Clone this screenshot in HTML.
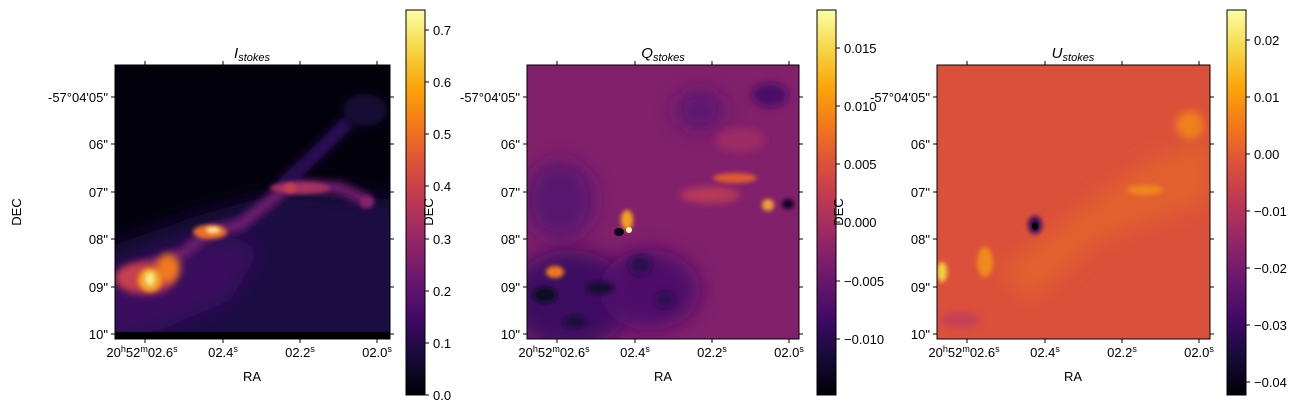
<!DOCTYPE html>
<html><head><meta charset="utf-8"><style>
body{margin:0;background:#fff;}
svg text{font-family:"Liberation Sans","DejaVu Sans",sans-serif;font-size:13px;fill:#000;}
</style></head><body>
<svg width="1307" height="413" xmlns="http://www.w3.org/2000/svg">
<defs>
<linearGradient id="inf" x1="0" y1="1" x2="0" y2="0">
<stop offset="0" stop-color="#000004"/><stop offset="0.1" stop-color="#160b39"/><stop offset="0.2" stop-color="#420a68"/><stop offset="0.3" stop-color="#6a176e"/><stop offset="0.4" stop-color="#932667"/><stop offset="0.5" stop-color="#bc3754"/><stop offset="0.6" stop-color="#dd513a"/><stop offset="0.7" stop-color="#f37819"/><stop offset="0.8" stop-color="#fca50a"/><stop offset="0.9" stop-color="#f6d746"/><stop offset="1" stop-color="#fcffa4"/>
</linearGradient>
<filter id="b8" x="-100%" y="-100%" width="300%" height="300%"><feGaussianBlur stdDeviation="10"/></filter>
<filter id="b4" x="-100%" y="-100%" width="300%" height="300%"><feGaussianBlur stdDeviation="4"/></filter>
<filter id="b2" x="-100%" y="-100%" width="300%" height="300%"><feGaussianBlur stdDeviation="2"/></filter>
<clipPath id="c1"><rect x="115" y="65" width="275" height="274"/></clipPath>
<clipPath id="c2"><rect x="527" y="65" width="272" height="274"/></clipPath>
<clipPath id="c3"><rect x="937" y="65" width="273" height="274"/></clipPath>
</defs>

<!-- Panel 1 -->
<g clip-path="url(#c1)">
<rect x="115" y="65" width="275" height="274" fill="#03020c"/>
<path d="M100,250 L200,215 L290,190 L400,200 L400,350 L100,350 Z" fill="#1e0a45" filter="url(#b8)"/>
<path d="M100,280 L170,255 L230,235 L260,250 L230,300 L160,330 L100,340Z" fill="#3a0c5e" filter="url(#b8)"/>
<path d="M120,278 L150,265 L180,255 L210,232 L240,225 L265,205 L290,185 L340,188 L370,202" stroke="#6d1a6e" stroke-width="12" fill="none" filter="url(#b4)"/>
<path d="M280,188 L320,150 L350,120" stroke="#2c0c58" stroke-width="14" fill="none" filter="url(#b4)"/>
<ellipse cx="365" cy="110" rx="22" ry="16" fill="#140b34" filter="url(#b4)"/>
<ellipse cx="300" cy="188" rx="30" ry="6" fill="#a5325e" filter="url(#b2)"/>
<ellipse cx="290" cy="188" rx="6" ry="5" fill="#c8404e" filter="url(#b2)"/>
<ellipse cx="367" cy="202" rx="7" ry="6" fill="#86206a" filter="url(#b2)"/>
<ellipse cx="210" cy="232" rx="17" ry="7" fill="#e8702a" filter="url(#b2)"/>
<ellipse cx="213" cy="230" rx="7" ry="3" fill="#fcf0a0" filter="url(#b2)"/>
<ellipse cx="145" cy="278" rx="30" ry="16" fill="#c8404e" filter="url(#b4)"/>
<ellipse cx="168" cy="268" rx="12" ry="14" fill="#f07a1a" filter="url(#b4)"/>
<ellipse cx="150" cy="280" rx="12" ry="12" fill="#f5a020" filter="url(#b2)"/>
<ellipse cx="150" cy="279" rx="5" ry="7" fill="#f6e890" filter="url(#b2)"/>
<rect x="115" y="332" width="275" height="7" fill="#000004"/>
</g>
<rect x="115" y="65" width="275" height="274" fill="none" stroke="#000"/>

<!-- Panel 2 -->
<g clip-path="url(#c2)">
<rect x="527" y="65" width="272" height="274" fill="#82206b"/>
<ellipse cx="570" cy="300" rx="60" ry="50" fill="#3e0c62" filter="url(#b8)"/>
<ellipse cx="650" cy="290" rx="50" ry="40" fill="#50106a" filter="url(#b8)"/>
<ellipse cx="560" cy="200" rx="35" ry="40" fill="#5a1570" filter="url(#b8)"/>
<ellipse cx="700" cy="110" rx="25" ry="20" fill="#5a1570" filter="url(#b8)"/>
<ellipse cx="770" cy="95" rx="18" ry="12" fill="#4a1068" filter="url(#b4)"/>
<ellipse cx="740" cy="140" rx="25" ry="12" fill="#9c2c64" filter="url(#b4)"/>
<ellipse cx="545" cy="295" rx="12" ry="8" fill="#0e0828" filter="url(#b2)"/>
<ellipse cx="600" cy="288" rx="14" ry="6" fill="#120a30" filter="url(#b2)"/>
<ellipse cx="575" cy="322" rx="12" ry="6" fill="#1c0c40" filter="url(#b2)"/>
<ellipse cx="640" cy="265" rx="12" ry="10" fill="#2a0b50" filter="url(#b4)"/>
<ellipse cx="665" cy="300" rx="10" ry="8" fill="#2a0b50" filter="url(#b4)"/>
<ellipse cx="555" cy="272" rx="9" ry="6" fill="#f07a1a" filter="url(#b2)"/>
<ellipse cx="627" cy="220" rx="6" ry="10" fill="#f5a020" filter="url(#b2)"/>
<ellipse cx="629" cy="230" rx="3" ry="3" fill="#fcffa4"/>
<ellipse cx="619" cy="232" rx="5" ry="4" fill="#0a0520"/>
<ellipse cx="710" cy="195" rx="30" ry="8" fill="#b83a58" filter="url(#b4)"/>
<ellipse cx="735" cy="178" rx="22" ry="5" fill="#e05a30" filter="url(#b2)"/>
<ellipse cx="768" cy="205" rx="6" ry="6" fill="#f2a030" filter="url(#b2)"/>
<ellipse cx="788" cy="204" rx="6" ry="5" fill="#0a0520" filter="url(#b2)"/>
</g>
<rect x="527" y="65" width="272" height="274" fill="none" stroke="#000"/>

<!-- Panel 3 -->
<g clip-path="url(#c3)">
<rect x="937" y="65" width="273" height="274" fill="#db503a"/>
<path d="M1000,270 L1080,210 L1150,160 L1210,140 L1210,200 L1100,240 L1030,300Z" fill="#e2602f" filter="url(#b8)"/>
<ellipse cx="1190" cy="125" rx="14" ry="14" fill="#f0801c" filter="url(#b4)"/>
<ellipse cx="1145" cy="190" rx="18" ry="5" fill="#f0861e" filter="url(#b2)"/>
<ellipse cx="1035" cy="225" rx="7" ry="9" fill="#3a0c5e" filter="url(#b2)"/>
<ellipse cx="1035" cy="226" rx="3" ry="4" fill="#000004"/>
<ellipse cx="985" cy="262" rx="8" ry="15" fill="#f08a1c" filter="url(#b2)"/>
<ellipse cx="942" cy="272" rx="5" ry="10" fill="#f6d040" filter="url(#b2)"/>
<ellipse cx="960" cy="320" rx="20" ry="8" fill="#c5405a" filter="url(#b4)"/>
</g>
<rect x="937" y="65" width="273" height="274" fill="none" stroke="#000"/>

<!-- colorbars -->
<rect x="406" y="10" width="19" height="385" fill="url(#inf)" stroke="#000"/>
<rect x="817" y="10" width="19" height="385" fill="url(#inf)" stroke="#000"/>
<rect x="1227" y="10" width="19" height="385" fill="url(#inf)" stroke="#000"/>

<!-- titles -->
<text x="252" y="58" text-anchor="middle"><tspan font-style="italic" font-size="15">I</tspan><tspan font-style="italic" font-size="11" dy="3">stokes</tspan></text>
<text x="663" y="58" text-anchor="middle"><tspan font-style="italic" font-size="15">Q</tspan><tspan font-style="italic" font-size="11" dy="3">stokes</tspan></text>
<text x="1073" y="58" text-anchor="middle"><tspan font-style="italic" font-size="15">U</tspan><tspan font-style="italic" font-size="11" dy="3">stokes</tspan></text>

<g stroke="#000">
<!-- panel1 ticks -->
<path d="M111,97h4M111,144h4M111,192h4M111,239h4M111,287h4M111,334h4M390,97h4M390,144h4M390,192h4M390,239h4M390,287h4M390,334h4M145,339v4M223,339v4M300,339v4M377,339v4M145,61v4M223,61v4M300,61v4M377,61v4"/>
<path d="M523,97h4M523,144h4M523,192h4M523,239h4M523,287h4M523,334h4M799,97h4M799,144h4M799,192h4M799,239h4M799,287h4M799,334h4M557,339v4M635,339v4M712,339v4M789,339v4M557,61v4M635,61v4M712,61v4M789,61v4"/>
<path d="M933,97h4M933,144h4M933,192h4M933,239h4M933,287h4M933,334h4M1210,97h4M1210,144h4M1210,192h4M1210,239h4M1210,287h4M1210,334h4M967,339v4M1045,339v4M1122,339v4M1199,339v4M967,61v4M1045,61v4M1122,61v4M1199,61v4"/>
<path d="M425,395h4M425,343h4M425,291h4M425,239h4M425,186h4M425,134h4M425,82h4M425,30h4"/>
<path d="M836,48h4M836,106h4M836,164h4M836,222h4M836,281h4M836,339h4"/>
<path d="M1246,40h4M1246,97h4M1246,154h4M1246,211h4M1246,268h4M1246,325h4M1246,382h4"/>
</g>

<!-- panel1 labels -->
<g text-anchor="end">
<text x="108" y="102">-57°04'05"</text><text x="108" y="149">06"</text><text x="108" y="197">07"</text><text x="108" y="244">08"</text><text x="108" y="292">09"</text><text x="108" y="339">10"</text>
<text x="520" y="102">-57°04'05"</text><text x="520" y="149">06"</text><text x="520" y="197">07"</text><text x="520" y="244">08"</text><text x="520" y="292">09"</text><text x="520" y="339">10"</text>
<text x="930" y="102">-57°04'05"</text><text x="930" y="149">06"</text><text x="930" y="197">07"</text><text x="930" y="244">08"</text><text x="930" y="292">09"</text><text x="930" y="339">10"</text>
</g>
<g text-anchor="middle">
<text x="142" y="357">20<tspan font-size="9" dy="-5">h</tspan><tspan dy="5">52</tspan><tspan font-size="9" dy="-5">m</tspan><tspan dy="5">02.6</tspan><tspan font-size="9" dy="-5">s</tspan></text>
<text x="223" y="357">02.4<tspan font-size="9" dy="-5">s</tspan></text>
<text x="300" y="357">02.2<tspan font-size="9" dy="-5">s</tspan></text>
<text x="377" y="357">02.0<tspan font-size="9" dy="-5">s</tspan></text>
<text x="554" y="357">20<tspan font-size="9" dy="-5">h</tspan><tspan dy="5">52</tspan><tspan font-size="9" dy="-5">m</tspan><tspan dy="5">02.6</tspan><tspan font-size="9" dy="-5">s</tspan></text>
<text x="635" y="357">02.4<tspan font-size="9" dy="-5">s</tspan></text>
<text x="712" y="357">02.2<tspan font-size="9" dy="-5">s</tspan></text>
<text x="789" y="357">02.0<tspan font-size="9" dy="-5">s</tspan></text>
<text x="964" y="357">20<tspan font-size="9" dy="-5">h</tspan><tspan dy="5">52</tspan><tspan font-size="9" dy="-5">m</tspan><tspan dy="5">02.6</tspan><tspan font-size="9" dy="-5">s</tspan></text>
<text x="1045" y="357">02.4<tspan font-size="9" dy="-5">s</tspan></text>
<text x="1122" y="357">02.2<tspan font-size="9" dy="-5">s</tspan></text>
<text x="1199" y="357">02.0<tspan font-size="9" dy="-5">s</tspan></text>
<text x="252" y="381">RA</text><text x="663" y="381">RA</text><text x="1073" y="381">RA</text>
<text transform="translate(21,212) rotate(-90)">DEC</text>
<text transform="translate(433,212) rotate(-90)">DEC</text>
<text transform="translate(843,212) rotate(-90)">DEC</text>
</g>
<g>
<text x="433" y="400">0.0</text><text x="433" y="348">0.1</text><text x="433" y="296">0.2</text><text x="433" y="244">0.3</text><text x="433" y="191">0.4</text><text x="433" y="139">0.5</text><text x="433" y="87">0.6</text><text x="433" y="35">0.7</text>
<text x="844" y="53">0.015</text><text x="844" y="111">0.010</text><text x="844" y="169">0.005</text><text x="844" y="227">0.000</text><text x="844" y="286">−0.005</text><text x="844" y="344">−0.010</text>
<text x="1254" y="45">0.02</text><text x="1254" y="102">0.01</text><text x="1254" y="159">0.00</text><text x="1254" y="216">−0.01</text><text x="1254" y="273">−0.02</text><text x="1254" y="330">−0.03</text><text x="1254" y="387">−0.04</text>
</g>
</svg>
</body></html>
